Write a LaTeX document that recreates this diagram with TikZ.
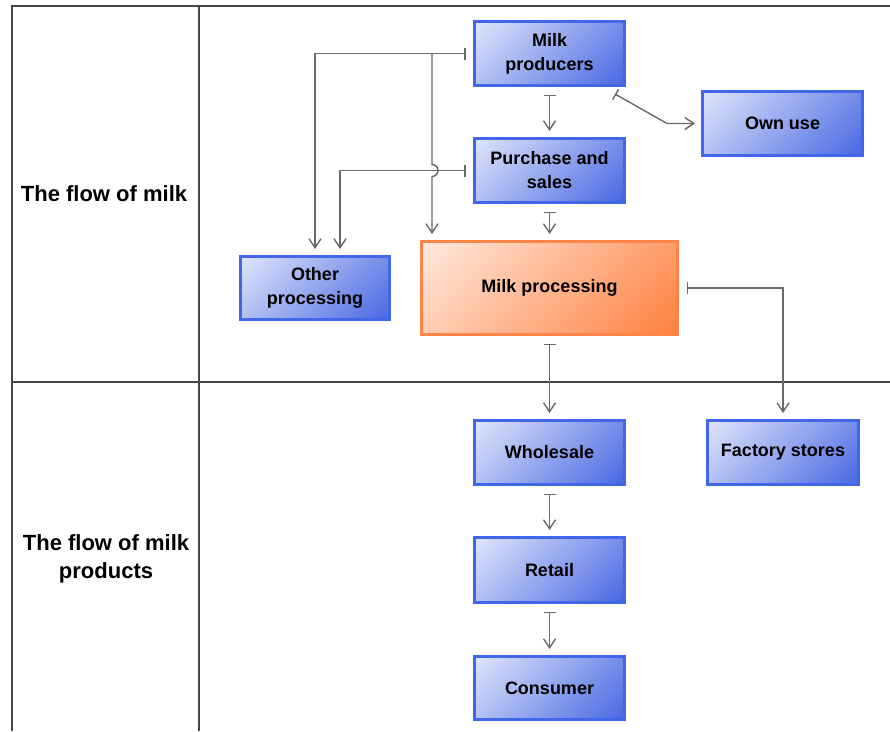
\documentclass[tikz,border=0pt]{standalone}
\usepackage{fontspec}
\setmainfont{Liberation Sans}
\usetikzlibrary{arrows.meta,calc}
\definecolor{bxblue}{RGB}{58,92,224}
\definecolor{bdblue}{RGB}{66,102,232}
\definecolor{bxorange}{RGB}{255,118,48}
\definecolor{bdorange}{RGB}{255,132,72}
\definecolor{flowgray}{RGB}{105,105,105}
\definecolor{framegray}{RGB}{70,70,70}
\pgfdeclareverticalshading{bluediag}{100bp}{color(0bp)=(bxblue); color(8bp)=(bxblue); color(100bp)=(white)}
\pgfdeclareverticalshading{orangediag}{100bp}{color(0bp)=(bxorange); color(8bp)=(bxorange); color(100bp)=(white)}
\begin{document}
\begin{tikzpicture}[x=1pt,y=-1pt,
  box/.style={draw=bdblue, line width=3pt, shade, shading=bluediag, shading angle=45,
    align=center, inner sep=0pt, font=\bfseries\fontsize{18}{24}\selectfont},
  obox/.style={draw=bdorange, line width=3pt, shade, shading=orangediag, shading angle=45,
    align=center, inner sep=0pt, font=\bfseries\fontsize{18}{24}\selectfont},
  lbl/.style={align=center, inner sep=0pt, font=\bfseries\fontsize{22}{28}\selectfont},
  flow/.style={draw=flowgray, line width=1.4pt,
    arrows={Bar[width=12pt]-Straight Barb[length=9pt,width=12pt]},
    shorten <=7.5pt, shorten >=6pt},
  flowend/.style={draw=flowgray, line width=1.4pt,
    arrows={-Straight Barb[length=9pt,width=12pt]}, shorten >=6pt},
  frame/.style={draw=framegray, line width=1.2pt}
]
\useasboundingbox (0,0) rectangle (890,731);

% frame
\draw[frame] (12,731) -- (12,6) -- (890,6);
\draw[frame] (199,6) -- (199,731);
\draw[frame] (12,382) -- (890,382);

% labels
\node[lbl] (l1) at (104,194) {The flow of milk};
\node[lbl] (l2) at (106,559) {The flow of milk\\products};

% boxes
\node[box, minimum width=150pt, minimum height=64pt] (mp) at (549.5,53.5) {Milk\\producers};
\node[box, minimum width=160pt, minimum height=64pt] (ou) at (782.5,123.5) {Own use};
\node[box, minimum width=150pt, minimum height=64pt] (ps) at (549.5,170.5) {Purchase and\\sales};
\node[box, minimum width=149pt, minimum height=63pt] (op) at (315,288) {Other\\processing};
\node[obox, minimum width=256pt, minimum height=93pt] (mpr) at (549.5,288) {Milk processing};
\node[box, minimum width=150pt, minimum height=64pt] (ws) at (549.5,452.5) {Wholesale};
\node[box, minimum width=151pt, minimum height=64pt] (fs) at (783,452.5) {Factory stores};
\node[box, minimum width=150pt, minimum height=65pt] (rt) at (549.5,570) {Retail};
\node[box, minimum width=150pt, minimum height=63pt] (cs) at (549.5,688) {Consumer};

% helper coordinates
\coordinate (br) at (432,53.5);
\coordinate (op2) at ($(op.north)+(25,0)$);
\coordinate (mpse) at ($(mp.south east)+(-11,7)$);
\coordinate (el) at (667,123.5);

% connectors
\draw[flow] (mp) -- (ps);
\draw[flow] (ps) -- (mpr);
\draw[flow] (mp.west) -| (op.north);
\draw[flowend] (br) -- (432,164.5) arc (-90:90:6) -- (br |- mpr.north);
\draw[flow] (ps.west) -| (op2);
\draw[flow, shorten <=0pt] (mpse) -- (el) -- (ou.west);
\draw[flow] (mpr.east) -| (fs.north);
\draw[flow] (mpr) -- (ws);
\draw[flow] (ws) -- (rt);
\draw[flow] (rt) -- (cs);
\end{tikzpicture}
\end{document}
